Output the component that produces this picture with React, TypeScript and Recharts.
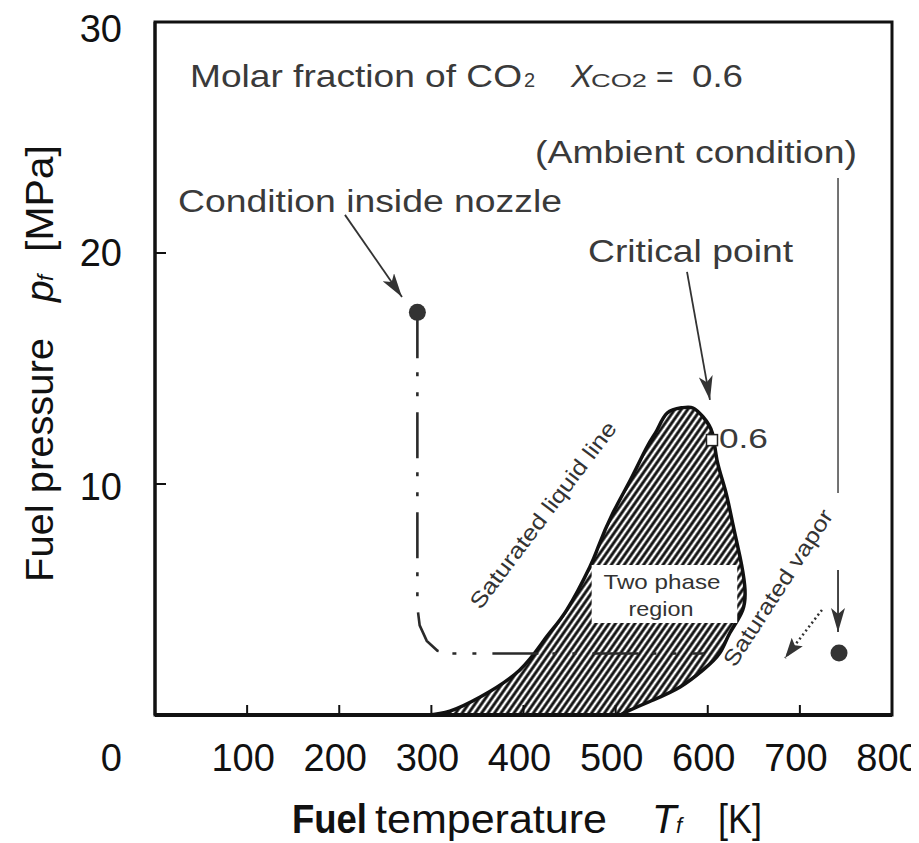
import React from 'react';
import { ComposedChart, XAxis, YAxis, Area, Line, Scatter, ReferenceArea, ReferenceDot } from 'recharts';

const FONT = '"Liberation Sans", Arial, Helvetica, sans-serif';

const xTicks = [100, 200, 300, 400, 500, 600, 700, 800];
const yTicks = [0, 10, 20, 30];

// two phase envelope: saturated liquid line up to the top, then saturated vapor line back down
const envelopeT = [295, 320, 353, 396, 425, 447, 472, 481, 497, 516, 534, 545, 556, 572, 584, 595, 605, 610, 619, 627, 635, 640, 638, 624, 613, 595, 570, 541, 516, 505];
const envelopeP = [0, 0.17, 0.78, 1.95, 3.38, 4.55, 6.41, 7.27, 8.74, 10.17, 11.6, 12.34, 13.07, 13.3, 13.29, 12.9, 12.21, 11.04, 9.74, 8.31, 6.84, 5.63, 4.55, 3.55, 2.68, 1.95, 1.21, 0.65, 0.22, 0];

// fuel path from the nozzle condition (dash dot line)
const pathT = [284.8, 284.8, 287.3, 295, 306.6, 320.3, 596];
const pathP = [17.43, 4.68, 3.88, 3.21, 2.78, 2.66, 2.66];

// points
const nozzleT = [284.8];
const nozzleP = [17.43];
const ambientT = [742.5];
const ambientP = [2.68];
const criticalT = [604.6];
const criticalP = [11.9];

// white box behind "Two phase region"
const boxT = [474, 632];
const boxTop = [6.49, 6.49];
const boxBottom = 3.98;

// arrows: [T1, P1, T2, P2]
const arrows = [
  [206.2, 21.65, 268.1, 18.1],
  [577.5, 19.18, 602.4, 13.64],
  [741.4, 6.28, 741.4, 3.59],
];
const ambientLine = [741.4, 23.25, 741.4, 9.61];
const expandArrow = [724.0, 4.55, 683.9, 2.47];

const zip = (t: number[], p: number[]) => t.map((T, i) => ({ T, P: p[i] }));
const seg = (a: number[]) => [{ T: a[0], P: a[1] }, { T: a[2], P: a[3] }];

const envelope = zip(envelopeT, envelopeP);
const fuelPath = zip(pathT, pathP);
const box = zip(boxT, boxTop);

type Part = { text: string; dx: number; size: number; len?: number; italic?: boolean };

const notes: { T: number; P: number; parts: Part[] }[] = [
  {
    T: 38, P: 27.19, parts: [
      { text: 'Molar fraction of CO', dx: 0, size: 32, len: 332 },
      { text: '2', dx: 334, size: 20 },
      { text: 'X', dx: 381, size: 32, italic: true },
      { text: 'CO2', dx: 401, size: 19, len: 56 },
      { text: '=', dx: 466, size: 30 },
      { text: '0.6', dx: 502, size: 32, len: 51 },
    ],
  },
  { T: 24.97, P: 21.77, parts: [{ text: 'Condition inside nozzle', dx: 0, size: 31, len: 384 }] },
  { T: 412.5, P: 23.9, parts: [{ text: '(Ambient condition)', dx: 0, size: 32, len: 322 }] },
  { T: 470, P: 19.61, parts: [{ text: 'Critical point', dx: 0, size: 32, len: 205 }] },
  { T: 612.2, P: 11.56, parts: [{ text: '0.6', dx: 0, size: 27, len: 49 }] },
];

const centered = [
  { T: 421.2, P: 8.66, angle: -53, text: 'Saturated liquid line', size: 22, len: 228 },
  { T: 676.3, P: 5.5, angle: -57, text: 'Saturated vapor', size: 22, len: 182 },
  { T: 550.3, P: 5.76, angle: 0, text: 'Two phase', size: 21, len: 117 },
  { T: 549.2, P: 4.59, angle: 0, text: 'region', size: 21, len: 65 },
];

const XTick = (props: any) => {
  const { x, y, payload } = props;
  const v = payload.value;
  return (
    <g>
      {v < 800 && <line x1={x} y1={y} x2={x} y2={y - 10} stroke="#111" strokeWidth={2} />}
      <text x={x - 4} y={y + 56} textAnchor="middle" fontSize={38} fill="#111" fontFamily={FONT}>{v}</text>
    </g>
  );
};

const yLabelShift: Record<number, number> = { 0: 56, 10: 16, 20: 13, 30: 20 };

const YTick = (props: any) => {
  const { x, y, payload } = props;
  const v = payload.value;
  return (
    <g>
      {v > 0 && v < 30 && <line x1={x} y1={y} x2={x + 11} y2={y} stroke="#111" strokeWidth={2} />}
      <text x={x - 33} y={y + (yLabelShift[v] ?? 14)} textAnchor="end" fontSize={38} fill="#111" fontFamily={FONT}>{v}</text>
    </g>
  );
};

const XTitle = (props: any) => {
  const { x, y } = props.viewBox;
  const by = y + 118;
  return (
    <g fontFamily={FONT} fill="#111">
      <text x={x + 137} y={by} fontSize={40} fontWeight="bold" textLength={75} lengthAdjust="spacingAndGlyphs">Fuel</text>
      <text x={x + 220} y={by} fontSize={40} textLength={232} lengthAdjust="spacingAndGlyphs">temperature</text>
      <text x={x + 497} y={by} fontSize={40} fontStyle="italic">T</text>
      <text x={x + 521} y={by} fontSize={22} fontStyle="italic">f</text>
      <text x={x + 563} y={by} fontSize={40} textLength={44} lengthAdjust="spacingAndGlyphs">[K]</text>
    </g>
  );
};

const YTitle = (props: any) => {
  const { x, y } = props.viewBox;
  return (
    <g transform={`translate(${x + 45},${y + 560}) rotate(-90)`} fontFamily={FONT} fill="#111">
      <text x={0} y={0} fontSize={39} textLength={244} lengthAdjust="spacingAndGlyphs">Fuel pressure</text>
      <text x={280} y={0} fontSize={39} fontStyle="italic">p</text>
      <text x={301} y={0} fontSize={22} fontStyle="italic">f</text>
      <text x={330} y={0} fontSize={39} textLength={107} lengthAdjust="spacingAndGlyphs">[MPa]</text>
    </g>
  );
};

const dotShape = (props: any) => <circle cx={props.cx} cy={props.cy} r={8.5} fill="#333" />;
const squareShape = (props: any) => (
  <rect x={props.cx - 5.5} y={props.cy - 5.5} width={11} height={11} fill="#fff" stroke="#222" strokeWidth={1.5} />
);

const App = () => {
  return (
    <ComposedChart width={911} height={835} margin={{ top: 14, right: 27, bottom: 0, left: 0 }}>
      <defs>
        <pattern id="hatch" width={5.3} height={5.3} patternUnits="userSpaceOnUse" patternTransform="rotate(35)">
          <rect width={5.3} height={5.3} fill="#fff" />
          <line x1={2.65} y1={0} x2={2.65} y2={5.3} stroke="#111" strokeWidth={2.9} />
        </pattern>
        <marker id="arrow" viewBox="0 0 24 14" refX={24} refY={7} markerWidth={24} markerHeight={14} markerUnits="userSpaceOnUse" orient="auto">
          <path d="M0,0 L24,7 L0,14 L6,7 z" fill="#333" />
        </marker>
        <marker id="arrowSmall" viewBox="0 0 20 14" refX={20} refY={7} markerWidth={20} markerHeight={14} markerUnits="userSpaceOnUse" orient="auto">
          <path d="M0,0 L20,7 L0,14 L4,7 z" fill="#333" />
        </marker>
      </defs>
      <XAxis
        type="number"
        dataKey="T"
        domain={[0, 800]}
        ticks={xTicks}
        interval={0}
        tick={XTick}
        tickSize={0}
        tickMargin={0}
        tickLine={false}
        axisLine={{ stroke: '#111', strokeWidth: 4 }}
        height={128}
        label={{ content: XTitle }}
      />
      <YAxis
        type="number"
        dataKey="P"
        domain={[0, 30]}
        ticks={yTicks}
        interval={0}
        tick={YTick}
        tickSize={0}
        tickMargin={0}
        tickLine={false}
        axisLine={{ stroke: '#111', strokeWidth: 3 }}
        width={147}
        label={{ content: YTitle }}
      />
      <ReferenceArea x1={0} x2={800} y1={0} y2={30} fill="none" stroke="#111" strokeWidth={3} ifOverflow="visible" />
      <Area data={envelope} dataKey="P" type="natural" fill="url(#hatch)" fillOpacity={1} stroke="#111" strokeWidth={3.5} baseValue={0} dot={false} activeDot={false} isAnimationActive={false} />
      <Area data={box} dataKey="P" type="linear" fill="#fff" fillOpacity={1} stroke="none" baseValue={boxBottom} dot={false} activeDot={false} isAnimationActive={false} />
      <Line data={fuelPath} dataKey="P" type="linear" stroke="#2a2a2a" strokeWidth={2.6} strokeDasharray="46 14 4 16 4 16" dot={false} activeDot={false} isAnimationActive={false} />
      {arrows.map((a, i) => (
        <Line key={'a' + i} data={seg(a)} dataKey="P" type="linear" stroke="#333" strokeWidth={1.8} markerEnd="url(#arrow)" dot={false} activeDot={false} isAnimationActive={false} />
      ))}
      <Line data={seg(ambientLine)} dataKey="P" type="linear" stroke="#444" strokeWidth={1.5} dot={false} activeDot={false} isAnimationActive={false} />
      <Line data={seg(expandArrow)} dataKey="P" type="linear" stroke="#333" strokeWidth={2.5} strokeDasharray="2 3" markerEnd="url(#arrowSmall)" dot={false} activeDot={false} isAnimationActive={false} />
      <Scatter data={zip(nozzleT, nozzleP)} dataKey="P" shape={dotShape} isAnimationActive={false} />
      <Scatter data={zip(ambientT, ambientP)} dataKey="P" shape={dotShape} isAnimationActive={false} />
      <Scatter data={zip(criticalT, criticalP)} dataKey="P" shape={squareShape} isAnimationActive={false} />
      {notes.map((n, i) => (
        <ReferenceDot
          key={'n' + i}
          x={n.T}
          y={n.P}
          r={0}
          fill="none"
          stroke="none"
          ifOverflow="visible"
          label={{
            content: (p: any) => (
              <g fontFamily={FONT} fill="#3a3a3a">
                {n.parts.map((part, j) => (
                  <text
                    key={j}
                    x={p.viewBox.x + part.dx}
                    y={p.viewBox.y}
                    fontSize={part.size}
                    fontStyle={part.italic ? 'italic' : 'normal'}
                    textLength={part.len}
                    lengthAdjust={part.len ? 'spacingAndGlyphs' : undefined}
                  >
                    {part.text}
                  </text>
                ))}
              </g>
            ),
          }}
        />
      ))}
      {centered.map((c, i) => (
        <ReferenceDot
          key={'c' + i}
          x={c.T}
          y={c.P}
          r={0}
          fill="none"
          stroke="none"
          ifOverflow="visible"
          label={{
            content: (p: any) => (
              <text
                x={p.viewBox.x}
                y={p.viewBox.y}
                transform={`rotate(${c.angle},${p.viewBox.x},${p.viewBox.y})`}
                textAnchor="middle"
                dominantBaseline="central"
                fontFamily={FONT}
                fontSize={c.size}
                fill="#333"
                textLength={c.len}
                lengthAdjust="spacingAndGlyphs"
              >
                {c.text}
              </text>
            ),
          }}
        />
      ))}
    </ComposedChart>
  );
};

export default App;
